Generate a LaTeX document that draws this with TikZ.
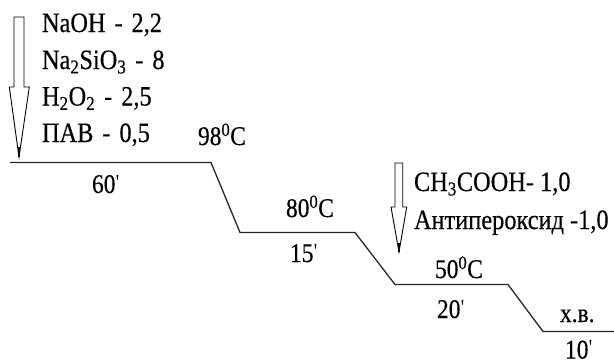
\documentclass[tikz,border=0pt]{standalone}
\usepackage{fontspec}
\setmainfont{Liberation Serif}[FakeStretch=0.87,FakeBold=0.3]
\newfontfamily\plainf{Liberation Serif}[Ligatures=TeXOff,FakeStretch=0.87]
\newcommand{\mprime}{{\plainf\kern0.3pt\raisebox{4pt}{\scalebox{0.8}{'}}}}
\newcommand{\dsh}{\hspace{0.32em}-\hspace{0.32em}}
\begin{document}
\begin{tikzpicture}[x=1pt,y=-1pt,
  lbl/.style={anchor=base west,inner sep=0pt,outer sep=0pt,font=\fontsize{27}{30}\selectfont},
  biglbl/.style={anchor=base west,inner sep=0pt,outer sep=0pt,font=\fontsize{28}{30}\selectfont},
  profile/.style={line width=1.3pt,black!85},
  hollow/.style={draw=black,line width=0.9pt,fill=white,line join=miter},
  tiptail/.style={line width=2pt,black}]
\useasboundingbox (0,0) rectangle (614,364);
% profile corners
\coordinate (p0) at (10,162.5);
\coordinate (p1) at (211,162.5);
\coordinate (p2) at (240,232.5);
\coordinate (p3) at (355,232.5);
\coordinate (p4) at (395,284.5);
\coordinate (p5) at (508,284.5);
\coordinate (p6) at (543,331.5);
\coordinate (p7) at (614,331.5);
\draw[profile] (p0) -- (p1) -- (p2) -- (p3) -- (p4) -- (p5) -- (p6) -- (p7);
% arrow 1
\draw[hollow] (14,17) -- (24,17) -- (24,87) -- (29.3,87) -- (19,157) -- (9.3,87) -- (14,87) -- cycle;
\coordinate (a1t) at (19,157);
\coordinate (a1s) at (19,147);
\draw[tiptail] (a1s) -- (a1t);
% arrow 2
\draw[hollow] (395,163) -- (402.7,163) -- (402.7,207) -- (406.7,207) -- (399,252) -- (391,207) -- (395,207) -- cycle;
\coordinate (a2t) at (399,252);
\coordinate (a2s) at (399,243);
\draw[tiptail] (a2s) -- (a2t);
% texts
\node[biglbl] (t1) at (42,32) {NaOH\dsh 2,2};
\node[biglbl] (t2) at (42,69) {Na\textsubscript{2}SiO\textsubscript{3}\dsh 8};
\node[biglbl] (t3) at (42,105.5) {H\textsubscript{2}O\textsubscript{2}\dsh 2,5};
\node[biglbl] (t4) at (42,142) {ПАВ\dsh 0,5};
\node[lbl] (c1) at (198,145) {98\textsuperscript{0}C};
\node[lbl] (m1) at (92,193) {60\mprime};
\node[lbl] (c2) at (286,217) {80\textsuperscript{0}C};
\node[lbl] (m2) at (290,262) {15\mprime};
\node[biglbl] (r1) at (414,191) {CH\textsubscript{3}COOH- 1,0};
\node[biglbl] (r2) at (414,229) {Антипероксид -1,0};
\node[lbl] (c3) at (435,278) {50\textsuperscript{0}C};
\node[lbl] (m3) at (437,318) {20\mprime};
\node[lbl] (c4) at (560,322) {х.в.};
\node[lbl] (m4) at (565,358.5) {10\mprime};
\end{tikzpicture}
\end{document}
